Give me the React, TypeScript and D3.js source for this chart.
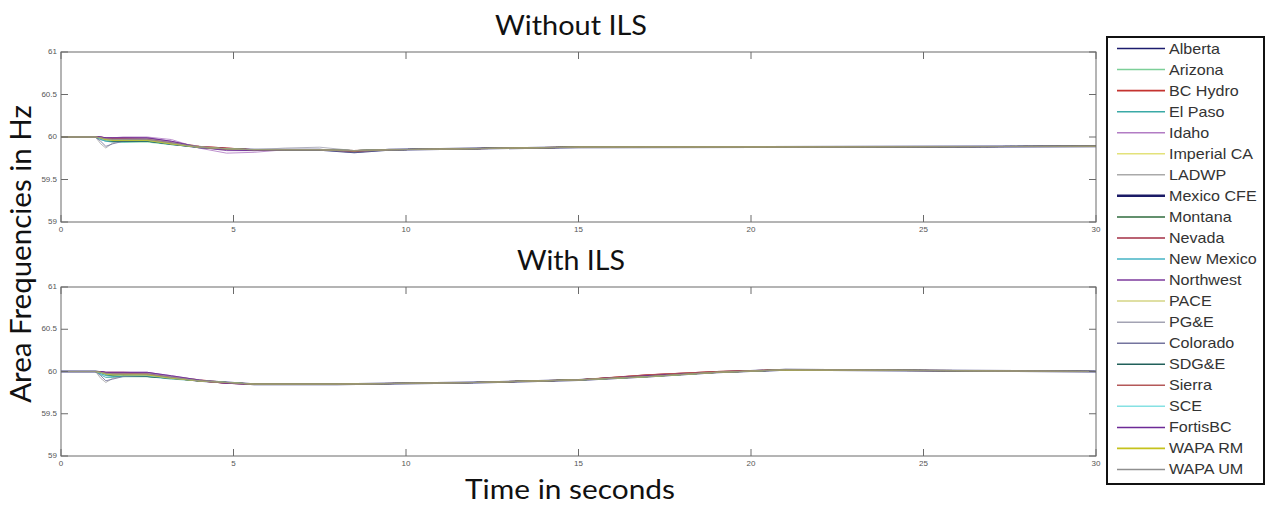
import * as d3 from 'd3';

// shared time grids (seconds)
const timeWithout = [0, 1, 1.15, 1.3, 1.5, 1.8, 2.5, 3.2, 4, 4.8, 5.6, 6.5, 7.5, 8.5, 9.5, 15, 30];
const timeWith = [0, 1, 1.15, 1.3, 1.5, 1.8, 2.5, 3.2, 4, 4.8, 5.6, 8, 12, 15, 17, 19, 21, 26, 30];

const areas = [
  'Alberta', 'Arizona', 'BC Hydro', 'El Paso', 'Idaho', 'Imperial CA', 'LADWP', 'Mexico CFE',
  'Montana', 'Nevada', 'New Mexico', 'Northwest', 'PACE', 'PG&E', 'Colorado', 'SDG&E',
  'Sierra', 'SCE', 'FortisBC', 'WAPA RM', 'WAPA UM',
];

const areaColors = [
  '#1c1c6e', '#7ccf98', '#c4332f', '#3aa9a6', '#b27cc4', '#e3e27a', '#aaaaaa', '#1a1a66',
  '#2f6b3c', '#a32f45', '#45b3c4', '#7d3a9c', '#d4d585', '#a3a3b3', '#74749e', '#21605a',
  '#b45858', '#86e1e3', '#6d2a96', '#c5c21d', '#8f8f8f',
];

const areaWidths = [1.2, 1, 1.2, 1, 1, 1, 1, 2, 1, 1, 1, 1, 1, 1, 1, 1, 1, 1, 1, 1.2, 1];

// Hz, one array per area, on timeWithout
const freqWithout = [
  [60, 60, 59.99, 59.98, 59.98, 59.97, 59.97, 59.93, 59.88, 59.86, 59.85, 59.85, 59.85, 59.84, 59.85, 59.88, 59.89],
  [60, 60, 59.98, 59.96, 59.95, 59.94, 59.94, 59.91, 59.88, 59.86, 59.85, 59.85, 59.85, 59.84, 59.85, 59.88, 59.89],
  [60, 60, 60.0, 59.99, 59.99, 59.99, 59.98, 59.94, 59.89, 59.87, 59.85, 59.85, 59.85, 59.84, 59.85, 59.88, 59.89],
  [60, 60, 59.97, 59.95, 59.94, 59.94, 59.95, 59.91, 59.88, 59.86, 59.85, 59.85, 59.85, 59.84, 59.85, 59.88, 59.89],
  [60, 60, 60.0, 59.99, 59.99, 60.0, 60.0, 59.97, 59.87, 59.81, 59.82, 59.85, 59.85, 59.84, 59.85, 59.88, 59.89],
  [60, 60, 59.99, 59.97, 59.97, 59.96, 59.96, 59.92, 59.88, 59.86, 59.85, 59.85, 59.85, 59.84, 59.85, 59.88, 59.89],
  [60, 60, 59.92, 59.87, 59.93, 59.96, 59.96, 59.93, 59.88, 59.86, 59.85, 59.85, 59.85, 59.84, 59.85, 59.88, 59.89],
  [60, 60, 59.99, 59.98, 59.97, 59.96, 59.96, 59.92, 59.88, 59.86, 59.85, 59.85, 59.85, 59.82, 59.85, 59.88, 59.89],
  [60, 60, 59.98, 59.96, 59.95, 59.95, 59.95, 59.92, 59.88, 59.86, 59.85, 59.85, 59.85, 59.84, 59.85, 59.88, 59.89],
  [60, 60, 59.99, 59.98, 59.98, 59.98, 59.97, 59.92, 59.89, 59.87, 59.85, 59.85, 59.85, 59.84, 59.85, 59.88, 59.89],
  [60, 60, 59.97, 59.95, 59.95, 59.95, 59.95, 59.92, 59.88, 59.86, 59.85, 59.85, 59.85, 59.84, 59.85, 59.88, 59.89],
  [60, 60, 60.0, 59.99, 59.99, 59.99, 59.99, 59.95, 59.88, 59.84, 59.84, 59.85, 59.85, 59.84, 59.85, 59.88, 59.89],
  [60, 60, 59.99, 59.97, 59.97, 59.97, 59.96, 59.92, 59.88, 59.86, 59.85, 59.85, 59.85, 59.84, 59.85, 59.88, 59.89],
  [60, 60, 59.99, 59.98, 59.98, 59.98, 59.98, 59.94, 59.89, 59.86, 59.85, 59.87, 59.88, 59.84, 59.85, 59.88, 59.89],
  [60, 60, 59.95, 59.89, 59.92, 59.95, 59.96, 59.92, 59.88, 59.86, 59.85, 59.85, 59.85, 59.82, 59.85, 59.88, 59.89],
  [60, 60, 59.98, 59.96, 59.95, 59.95, 59.95, 59.92, 59.88, 59.86, 59.85, 59.85, 59.85, 59.84, 59.85, 59.88, 59.89],
  [60, 60, 59.99, 59.98, 59.98, 59.98, 59.97, 59.93, 59.88, 59.86, 59.85, 59.85, 59.85, 59.83, 59.85, 59.88, 59.89],
  [60, 60, 59.98, 59.96, 59.96, 59.96, 59.96, 59.92, 59.88, 59.86, 59.85, 59.85, 59.85, 59.84, 59.85, 59.88, 59.89],
  [60, 60, 60.0, 59.99, 59.99, 59.99, 59.99, 59.95, 59.88, 59.85, 59.84, 59.85, 59.85, 59.84, 59.85, 59.88, 59.89],
  [60, 60, 59.99, 59.97, 59.96, 59.96, 59.96, 59.92, 59.88, 59.86, 59.85, 59.85, 59.85, 59.84, 59.85, 59.88, 59.89],
  [60, 60, 59.99, 59.98, 59.97, 59.97, 59.97, 59.93, 59.88, 59.86, 59.85, 59.85, 59.85, 59.84, 59.85, 59.88, 59.89],
];

// Hz, one array per area, on timeWith
const freqWith = [
  [60, 60, 59.99, 59.98, 59.98, 59.97, 59.97, 59.93, 59.89, 59.87, 59.85, 59.85, 59.87, 59.9, 59.95, 59.99, 60.02, 60.01, 60.0],
  [60, 60, 59.98, 59.96, 59.95, 59.94, 59.94, 59.92, 59.89, 59.87, 59.85, 59.85, 59.87, 59.9, 59.94, 59.99, 60.02, 60.01, 60.0],
  [60, 60, 60.0, 59.99, 59.99, 59.99, 59.98, 59.94, 59.9, 59.87, 59.85, 59.85, 59.87, 59.9, 59.96, 60.0, 60.02, 60.01, 60.0],
  [60, 60, 59.96, 59.93, 59.93, 59.94, 59.94, 59.91, 59.89, 59.87, 59.85, 59.85, 59.87, 59.9, 59.94, 59.99, 60.02, 60.01, 60.0],
  [60, 60, 60.0, 59.99, 59.99, 59.99, 59.99, 59.95, 59.9, 59.86, 59.85, 59.85, 59.87, 59.9, 59.95, 59.99, 60.02, 60.01, 60.0],
  [60, 60, 59.99, 59.97, 59.97, 59.96, 59.96, 59.92, 59.89, 59.87, 59.85, 59.85, 59.87, 59.9, 59.94, 59.99, 60.02, 60.01, 60.0],
  [60, 60, 59.92, 59.87, 59.92, 59.95, 59.95, 59.92, 59.89, 59.87, 59.85, 59.85, 59.87, 59.9, 59.94, 59.99, 60.02, 60.01, 60.0],
  [60, 60, 59.99, 59.98, 59.97, 59.96, 59.96, 59.93, 59.89, 59.87, 59.85, 59.85, 59.87, 59.9, 59.94, 59.99, 60.02, 60.01, 60.0],
  [60, 60, 59.98, 59.96, 59.95, 59.94, 59.94, 59.92, 59.89, 59.87, 59.85, 59.85, 59.87, 59.9, 59.94, 59.99, 60.02, 60.01, 60.0],
  [60, 60, 59.99, 59.98, 59.98, 59.98, 59.97, 59.93, 59.89, 59.86, 59.85, 59.85, 59.87, 59.9, 59.96, 60.0, 60.02, 60.01, 60.0],
  [60, 60, 59.97, 59.95, 59.94, 59.94, 59.95, 59.92, 59.89, 59.87, 59.85, 59.85, 59.87, 59.9, 59.94, 59.99, 60.02, 60.01, 60.0],
  [60, 60, 60.0, 59.99, 59.99, 59.99, 59.99, 59.94, 59.89, 59.86, 59.85, 59.85, 59.87, 59.9, 59.95, 59.99, 60.02, 60.01, 60.0],
  [60, 60, 59.99, 59.97, 59.97, 59.97, 59.96, 59.93, 59.89, 59.87, 59.85, 59.85, 59.87, 59.9, 59.94, 59.99, 60.02, 60.01, 60.0],
  [60, 60, 59.99, 59.98, 59.98, 59.98, 59.98, 59.94, 59.9, 59.87, 59.85, 59.85, 59.87, 59.9, 59.94, 59.99, 60.02, 60.01, 60.0],
  [60, 60, 59.95, 59.89, 59.91, 59.94, 59.95, 59.92, 59.89, 59.87, 59.85, 59.85, 59.87, 59.9, 59.94, 59.99, 60.02, 60.01, 60.0],
  [60, 60, 59.98, 59.96, 59.95, 59.95, 59.94, 59.92, 59.89, 59.87, 59.85, 59.85, 59.87, 59.9, 59.94, 59.99, 60.02, 60.01, 60.0],
  [60, 60, 59.99, 59.98, 59.98, 59.98, 59.97, 59.93, 59.89, 59.86, 59.85, 59.85, 59.87, 59.9, 59.96, 60.0, 60.02, 60.01, 60.0],
  [60, 60, 59.98, 59.96, 59.96, 59.95, 59.95, 59.92, 59.89, 59.87, 59.85, 59.85, 59.87, 59.9, 59.94, 59.99, 60.02, 60.01, 60.0],
  [60, 60, 60.0, 59.99, 59.99, 59.99, 59.99, 59.95, 59.9, 59.86, 59.85, 59.85, 59.87, 59.9, 59.95, 59.99, 60.02, 60.01, 60.0],
  [60, 60, 59.99, 59.97, 59.96, 59.96, 59.96, 59.92, 59.89, 59.87, 59.85, 59.85, 59.87, 59.9, 59.94, 59.99, 60.02, 60.01, 60.0],
  [60, 60, 59.99, 59.98, 59.97, 59.97, 59.97, 59.93, 59.89, 59.87, 59.85, 59.85, 59.87, 59.9, 59.94, 59.99, 60.02, 60.01, 60.0],
];

const xTicks = [0, 5, 10, 15, 20, 25, 30];
const yTicks = [59, 59.5, 60, 60.5, 61];

const W = 1267;
const H = 506;
const plotLeft = 61;
const plotRight = 1096;
const panels = [
  { title: 'Without ILS', top: 52, bottom: 222, time: timeWithout, freq: freqWithout, titleY: 35, titleW: 152 },
  { title: 'With ILS', top: 287, bottom: 456, time: timeWith, freq: freqWith, titleY: 270, titleW: 108 },
];

const axisColor = '#6b6b6b';
const tickFont = '"Liberation Sans", Arial, sans-serif';
const titleFont = 'Lato, "Open Sans", sans-serif';

function Panel({ p }: { p: (typeof panels)[0] }) {
  const x = d3.scaleLinear().domain([0, 30]).range([plotLeft, plotRight]);
  const y = d3.scaleLinear().domain([59, 61]).range([p.bottom, p.top]);
  const line = d3
    .line<number>()
    .x((_, i) => x(p.time[i]))
    .y((d) => y(d));
  const tickLen = 7;

  return (
    <g>
      <text
        x={571}
        y={p.titleY}
        textAnchor="middle"
        fontFamily={titleFont}
        fontSize={27}
        textLength={p.titleW}
        lengthAdjust="spacingAndGlyphs"
        fill="#111"
      >
        {p.title}
      </text>
      <rect x={plotLeft} y={p.top} width={plotRight - plotLeft} height={p.bottom - p.top} fill="#fff" />
      {p.freq.map((vals, k) => (
        <path
          key={areas[k]}
          d={line(vals) || ''}
          fill="none"
          stroke={areaColors[k]}
          strokeWidth={areaWidths[k]}
          opacity={0.85}
        />
      ))}
      <rect
        x={plotLeft}
        y={p.top}
        width={plotRight - plotLeft}
        height={p.bottom - p.top}
        fill="none"
        stroke={axisColor}
        strokeWidth={1}
      />
      {xTicks.map((t) => (
        <g key={'x' + t}>
          <line x1={x(t)} x2={x(t)} y1={p.bottom} y2={p.bottom - tickLen} stroke={axisColor} />
          <line x1={x(t)} x2={x(t)} y1={p.top} y2={p.top + tickLen} stroke={axisColor} />
          <text x={x(t)} y={p.bottom + 10} textAnchor="middle" fontFamily={tickFont} fontSize={8} fill="#555">
            {t}
          </text>
        </g>
      ))}
      {yTicks.map((v) => (
        <g key={'y' + v}>
          <line x1={plotLeft} x2={plotLeft + tickLen} y1={y(v)} y2={y(v)} stroke={axisColor} />
          <line x1={plotRight} x2={plotRight - tickLen} y1={y(v)} y2={y(v)} stroke={axisColor} />
          <text x={plotLeft - 4} y={y(v) + 2} textAnchor="end" fontFamily={tickFont} fontSize={8} fill="#555">
            {v}
          </text>
        </g>
      ))}
    </g>
  );
}

export default function App() {
  const legendX = 1107;
  const legendY = 37;
  const legend = d3.scaleBand<string>().domain(areas).range([legendY + 1, 480]);

  return (
    <svg width={W} height={H} style={{ position: 'absolute', left: 0, top: 0, background: '#fff' }}>
      <rect x={0} y={0} width={W} height={H} fill="#fff" />
      {panels.map((p) => (
        <Panel key={p.title} p={p} />
      ))}
      <text
        transform="translate(31,254) rotate(-90)"
        textAnchor="middle"
        fontFamily={titleFont}
        fontSize={29.5}
        fill="#111"
      >
        Area Frequencies in Hz
      </text>
      <text
        x={570}
        y={499}
        textAnchor="middle"
        fontFamily={titleFont}
        fontSize={26}
        textLength={210}
        lengthAdjust="spacingAndGlyphs"
        fill="#111"
      >
        Time in seconds
      </text>

      <rect x={legendX} y={legendY} width={157} height={447} fill="#fff" stroke="#111" strokeWidth={2} />
      {areas.map((a, k) => {
        const cy = (legend(a) || 0) + legend.bandwidth() / 2;
        return (
          <g key={a}>
            <line x1={legendX + 10} x2={legendX + 58} y1={cy} y2={cy} stroke={areaColors[k]} strokeWidth={areaWidths[k] + 0.5} />
            <text
              transform={`translate(${legendX + 62},${cy + 5}) scale(1.15,1)`}
              fontFamily={tickFont}
              fontSize={14}
              fill="#333"
            >
              {a}
            </text>
          </g>
        );
      })}
    </svg>
  );
}
